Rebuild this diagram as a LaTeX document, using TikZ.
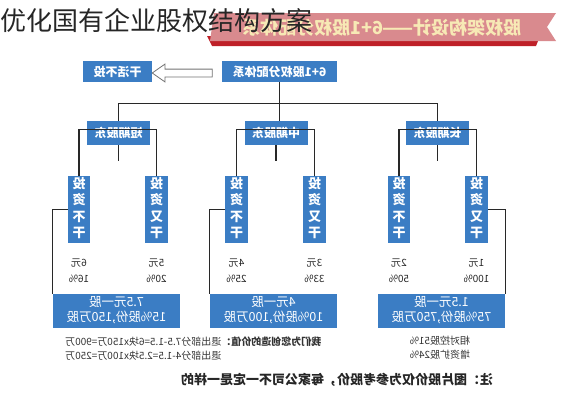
\documentclass[tikz,border=0pt]{standalone}
\usepackage{fontspec}
\setmainfont{Noto Sans CJK SC}
\usepackage{graphicx}
\usetikzlibrary{shapes.arrows}
\definecolor{boxblue}{RGB}{59,125,196}
\definecolor{ribbonpink}{RGB}{217,138,142}
\definecolor{ribbonred}{RGB}{190,32,40}
\definecolor{ribbontext}{RGB}{247,233,181}
\definecolor{linegray}{RGB}{40,40,40}
\newcommand{\flip}[1]{\reflectbox{\begin{tabular}{@{}c@{}}#1\end{tabular}}}
\tikzset{
  bluebox/.style={fill=boxblue, text=white, inner sep=0pt, font=\fontsize{12}{14}\selectfont\bfseries},
  tallbox/.style={bluebox, minimum width=22.5pt, minimum height=67pt, font=\fontsize{13}{16.5}\selectfont\bfseries},
  gubox/.style={bluebox, minimum width=127pt, minimum height=34pt, font=\fontsize{12.5}{15}\selectfont},
  pricelabel/.style={font=\fontsize{10}{12}\selectfont, text=black!85},
  branch/.style={draw=linegray, line width=1.2pt},
}
\begin{document}
\begin{tikzpicture}[x=1pt,y=-1pt]
        \useasboundingbox (0,0) rectangle (564,400);
        % ribbon and title
        \fill[ribbonred] (207,36) -- (540,36) -- (536,46) -- (212,46) -- cycle;
        \fill[ribbonpink] (214,13) -- (556,13) -- (547,27) -- (556,41) -- (210,41) -- cycle;
        \node[font=\fontsize{18}{20}\selectfont\bfseries, text=ribbontext] (ribbon) at (382,28) {\reflectbox{股权架构设计——6+1股权分配体系}};
        \node[anchor=west, inner sep=0pt, font=\fontsize{26}{28}\selectfont, text=black!85] (title) at (0,21) {优化国有企业股权结构方案};
        % top row
        \node[bluebox, minimum width=115pt, minimum height=21pt] (fenpei) at (279.5,71.5) {\reflectbox{6+1股权分配体系}};
        \node[bluebox, minimum width=69pt, minimum height=21pt] (ganhuo) at (117.5,71.5) {\reflectbox{干活不投}};
        \node[single arrow, draw=black!55, fill=white, line width=0.8pt, shape border rotate=180,
              minimum height=60pt, inner sep=3.5pt, single arrow head extend=5pt, single arrow tip angle=70] (kongjian) at (185,73) {};
        % shareholders
        \foreach \name/\x/\txt in {duanqi/118.5/短期股东, zhongqi/276/中期股东, changqi/437.5/长期股东} {
                \node[bluebox, minimum width=63pt, minimum height=24pt] (\name) at (\x,133) {\reflectbox{\txt}};
            }
        \draw[branch] (fenpei.south) -- (fenpei.south |- zhongqi.north);
        \draw[branch] (duanqi.north) -- ++(0,-17) -| (changqi.north);
        % invest boxes and prices
        \foreach \x/\k/\p/\q [count=\i] in {79/不/6元/16\%, 156.5/又/5元/20\%, 236.5/不/4元/25\%,
                314.5/又/3元/33\%, 399/不/2元/50\%, 476.5/又/1元/100\%} {
                \node[tallbox] (tou\i) at (\x,209.5) {\flip{投\\资\\\k\\干}};
                \node[pricelabel] (yuan\i) at (\x,263) {\reflectbox{\p}};
                \node[pricelabel] (bili\i) at (\x,279) {\reflectbox{\q}};
            }
        \foreach \top/\a/\b in {duanqi/1/2, zhongqi/3/4, changqi/5/6} {
                \draw[branch] (\top.south) -- ++(0,16);
                \draw[branch] (tou\a.north) |- ([yshift=16pt]\top.south) -| (tou\b.north);
            }
        % share blocks
        \node[gubox] (gu1) at (116.5,311) {\flip{7.5元一股\\15\%股份,150万股}};
        \node[gubox] (gu2) at (273.5,311) {\flip{4元一股\\10\%股份,100万股}};
        \node[gubox] (gu3) at (441.5,311) {\flip{1.5元一股\\75\%股份,750万股}};
        \draw[branch] (tou1.west) -| (gu1.north west);
        \draw[branch] (tou3.west) -| (gu2.north west);
        \draw[branch] (tou6.east) -| (gu3.north east);
        % notes
        \node[anchor=north west, inner sep=0pt, font=\fontsize{10}{14}\selectfont, text=black!80] (jiazhi) at (65,335)
            {\reflectbox{\begin{tabular}{@{}r@{}}\textbf{我们为您创造的价值：}退出部分7.5-1.5=6块x150万=900万\\退出部分4-1.5=2.5块x100万=250万\end{tabular}}};
        \node[font=\fontsize{10}{14}\selectfont, text=black!80] (konggu) at (440,349) {\flip{相对控股51\%\\增资扩股24\%}};
        \node[font=\fontsize{13}{15}\selectfont\bfseries, text=black!85] (zhu) at (337,380) {\reflectbox{注：图片股价仅为参考股价，每家公司不一定是一样的}};
    \end{tikzpicture}
\end{document}
